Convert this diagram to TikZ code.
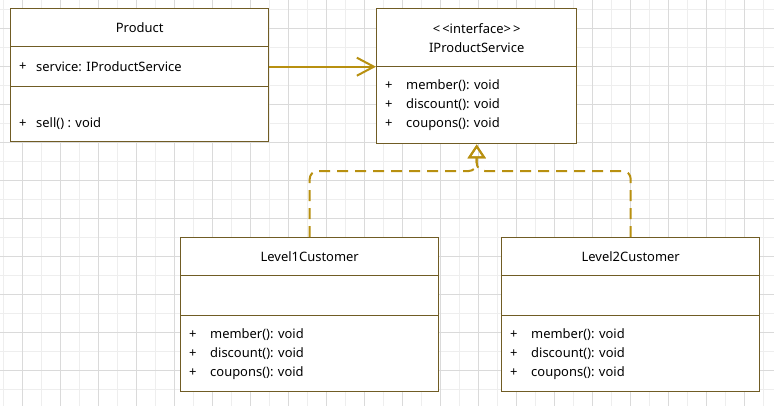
\documentclass[tikz,border=0pt]{standalone}
\usepackage{fontspec}
\setmainfont{Noto Sans}
\usetikzlibrary{arrows.meta,positioning}

\definecolor{umlline}{RGB}{112,92,36}
\definecolor{umlgold}{RGB}{184,144,16}
\definecolor{gridlight}{RGB}{238,238,238}
\definecolor{griddark}{RGB}{218,218,218}

\begin{document}
\begin{tikzpicture}[x=1bp,y=-1bp,
  box/.style={draw=umlline,fill=white,line width=1.4bp,inner sep=0pt,anchor=north west,
    font=\fontsize{13}{19}\selectfont,align=center},
  member/.style={anchor=west,inner sep=0pt,font=\fontsize{13}{15}\selectfont},
  assoc/.style={draw=umlgold,line width=2bp,-{Straight Barb[length=17bp,width=18bp]}},
  realize/.style={draw=umlgold,line width=2bp,dash pattern=on 11bp off 7bp,
    rounded corners=8bp,-{Triangle[open,length=14bp,width=18bp]}}]
\useasboundingbox (0,0) rectangle (774,406);
\fill[white] (0,0) rectangle (774,406);
% grid
\foreach \k in {0,...,20} \draw[gridlight,line width=1bp] (3.7+38*\k,0) -- (3.7+38*\k,406);
\foreach \k in {0,...,10} \draw[gridlight,line width=1bp] (0,9.7+38*\k) -- (774,9.7+38*\k);
\foreach \k in {0,...,19} \draw[griddark,line width=1bp] (22.7+38*\k,0) -- (22.7+38*\k,406);
\foreach \k in {0,...,9} \draw[griddark,line width=1bp] (0,28.7+38*\k) -- (774,28.7+38*\k);

% Product
\node[box,minimum width=258bp,minimum height=38bp] (phead) at (10,8) {Product};
\node[box,minimum width=258bp,minimum height=40bp] (pattr) at (10,46) {};
\node[box,minimum width=258bp,minimum height=55bp] (pops) at (10,86) {};
\node[member] (pplus1) at (19,67) {+};
\node[member] (pserv) at (36,67) {service: IProductService};
\node[member] (pplus2) at (19,124) {+};
\node[member] (psell) at (36,124) {sell() : void};

% IProductService
\node[box,minimum width=200bp,minimum height=58bp] (ihead) at (376,8) {<\,<interface>\,>\\IProductService};
\node[box,minimum width=200bp,minimum height=77bp] (iops) at (376,66) {};
\node[member] (iplus1) at (385,86) {+};
\node[member] (imember) at (406,86) {member(): void};
\node[member] (iplus2) at (385,105) {+};
\node[member] (idiscount) at (406,105) {discount(): void};
\node[member] (iplus3) at (385,124) {+};
\node[member] (icoupons) at (406,124) {coupons(): void};

% Level1Customer
\node[box,minimum width=258bp,minimum height=38bp] (ahead) at (180,237) {Level1Customer};
\node[box,minimum width=258bp,minimum height=40bp] (aattr) at (180,275) {};
\node[box,minimum width=258bp,minimum height=76bp] (aops) at (180,315) {};
\node[member] (aplus1) at (189,335) {+};
\node[member] (amember) at (210,335) {member(): void};
\node[member] (aplus2) at (189,354) {+};
\node[member] (adiscount) at (210,354) {discount(): void};
\node[member] (aplus3) at (189,373) {+};
\node[member] (acoupons) at (210,373) {coupons(): void};

% Level2Customer
\node[box,minimum width=258bp,minimum height=38bp] (bhead) at (501,237) {Level2Customer};
\node[box,minimum width=258bp,minimum height=40bp] (battr) at (501,275) {};
\node[box,minimum width=258bp,minimum height=76bp] (bops) at (501,315) {};
\node[member] (bplus1) at (510,335) {+};
\node[member] (bmember) at (531,335) {member(): void};
\node[member] (bplus2) at (510,354) {+};
\node[member] (bdiscount) at (531,354) {discount(): void};
\node[member] (bplus3) at (510,373) {+};
\node[member] (bcoupons) at (531,373) {coupons(): void};

% connectors
\draw[assoc] (pattr.east) -- (pattr.east -| iops.west);
\coordinate (join) at (iops.south |- 0,171);
\draw[realize] (ahead.north) |- (join) -- (iops.south);
\draw[realize] (bhead.north) |- (join) -- (iops.south);
\end{tikzpicture}
\end{document}
